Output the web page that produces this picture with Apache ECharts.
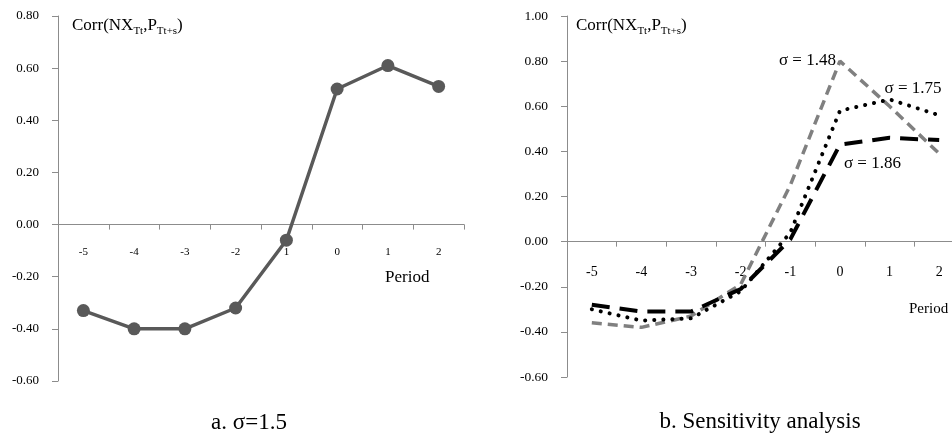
<!DOCTYPE html>
<html>
<head>
<meta charset="utf-8">
<script src="https://cdn.jsdelivr.net/npm/echarts@6/dist/echarts.min.js"></script>
<style>
html,body{margin:0;padding:0;background:#fff;overflow:hidden;}
#c{width:970px;height:436px;}
</style>
</head>
<body>
<div id="c"></div>
<script>
// Panel a categories (as printed, including the "1" under -1)
const catsA = ['-5', '-4', '-3', '-2', '1', '0', '1', '2'];
const catsB = ['-5', '-4', '-3', '-2', '-1', '0', '1', '2'];
const yTicksA = [-0.6, 0.8, 0.2];
const yTicksB = [-0.6, 1.0, 0.2];
// Panel a: sigma = 1.5
const corrA = [-0.33, -0.40, -0.40, -0.32, -0.06, 0.52, 0.61, 0.53];
// Panel b: sensitivity analysis
const sig148 = [-0.36, -0.38, -0.33, -0.19, 0.25, 0.80, 0.60, 0.39];
const sig175 = [-0.30, -0.35, -0.34, -0.22, 0.04, 0.58, 0.63, 0.56];
const sig186 = [-0.28, -0.31, -0.31, -0.21, 0.01, 0.43, 0.46, 0.45];

const FONT = 'Liberation Serif';
const AX = '#8c8c8c';

const gridA = {left: 58, top: 16, width: 406, height: 365};
const gridB = {left: 567, top: 16, width: 397, height: 361};

const chart = echarts.init(document.getElementById('c'));

function titleText(x, y) {
  return {
    type: 'text', x: x, y: y,
    style: {
      text: '{m|Corr(NX}{s|Tt}{m|,P}{s|Tt+s}{m|)}',
      rich: {
        m: {fontFamily: FONT, fontSize: 17, fill: '#000', lineHeight: 20, verticalAlign: 'bottom'},
        s: {fontFamily: FONT, fontSize: 11, fill: '#000', lineHeight: 20, verticalAlign: 'bottom', padding: [0, 0, -3, 0]}
      }
    }
  };
}

function yAxisDef(idx, ticks, fs) {
  return {
    type: 'value', gridIndex: idx, min: ticks[0], max: ticks[1], interval: ticks[2],
    axisLine: {show: true, lineStyle: {color: AX, width: 1}},
    axisTick: {show: true, length: 6, lineStyle: {color: AX}},
    splitLine: {show: false},
    axisLabel: {
      margin: 19, fontFamily: FONT, fontSize: fs, color: '#000',
      formatter: v => v.toFixed(2)
    }
  };
}

// x axis crosses the value axis at 0: shift it up from the grid bottom by the zero position
function xAxisDef(idx, cats, fs, margin, grid, ticks) {
  const zeroOffset = grid.height * (0 - ticks[0]) / (ticks[1] - ticks[0]);
  return {
    type: 'category', gridIndex: idx, data: cats, boundaryGap: true,
    position: 'bottom', offset: -zeroOffset,
    axisLine: {show: true, onZero: false, lineStyle: {color: AX, width: 1}},
    axisTick: {show: true, length: 5, lineStyle: {color: AX}},
    axisLabel: {margin: margin, fontFamily: FONT, fontSize: fs, color: '#000', interval: 0}
  };
}

function markLabel(idx, val, text, pos, align) {
  return {
    coord: [idx, val], symbolSize: 0,
    label: {
      show: true, formatter: text, position: pos, align: align, verticalAlign: 'middle',
      fontFamily: FONT, fontSize: 17, color: '#000'
    }
  };
}

chart.setOption({
  animation: false,
  backgroundColor: '#fff',
  grid: [gridA, gridB],
  xAxis: [xAxisDef(0, catsA, 11, 22, gridA, yTicksA), xAxisDef(1, catsB, 14, 24, gridB, yTicksB)],
  yAxis: [yAxisDef(0, yTicksA, 13), yAxisDef(1, yTicksB, 13.5)],
  series: [
    {
      type: 'line', xAxisIndex: 0, yAxisIndex: 0, data: corrA,
      symbol: 'circle', symbolSize: 13,
      itemStyle: {color: '#595959'},
      lineStyle: {color: '#595959', width: 3.5}
    },
    {
      type: 'line', xAxisIndex: 1, yAxisIndex: 1, data: sig148,
      symbol: 'none',
      lineStyle: {color: '#808080', width: 3.5, type: [10, 6]},
      markPoint: {symbol: 'circle', symbolSize: 0, data: [markLabel(5, sig148[5], 'σ = 1.48', [-4, -1], 'right')]}
    },
    {
      type: 'line', xAxisIndex: 1, yAxisIndex: 1, data: sig175,
      symbol: 'none',
      lineStyle: {color: '#000', width: 4, type: [0.1, 9], cap: 'round'},
      markPoint: {symbol: 'circle', symbolSize: 0, data: [markLabel(6, sig175[6], 'σ = 1.75', [-5, -11], 'left')]}
    },
    {
      type: 'line', xAxisIndex: 1, yAxisIndex: 1, data: sig186,
      symbol: 'none',
      lineStyle: {color: '#000', width: 4, type: [18, 10]},
      markPoint: {symbol: 'circle', symbolSize: 0, data: [markLabel(5, sig186[5], 'σ = 1.86', [4, 19], 'left')]}
    }
  ],
  graphic: [
    titleText(72, 14),
    titleText(576, 14),
    {type: 'text', x: 385, y: 278, style: {text: 'Period', fontFamily: FONT, fontSize: 17, fill: '#000', verticalAlign: 'middle'}},
    {type: 'text', x: 909, y: 309, style: {text: 'Period', fontFamily: FONT, fontSize: 15, fill: '#000', verticalAlign: 'middle'}},
    {type: 'text', x: 249, y: 423, style: {text: 'a. σ=1.5', fontFamily: FONT, fontSize: 23, fill: '#000', align: 'center', verticalAlign: 'middle'}},
    {type: 'text', x: 760, y: 422, style: {text: 'b. Sensitivity analysis', fontFamily: FONT, fontSize: 23, fill: '#000', align: 'center', verticalAlign: 'middle'}}
  ]
});
</script>
</body>
</html>
